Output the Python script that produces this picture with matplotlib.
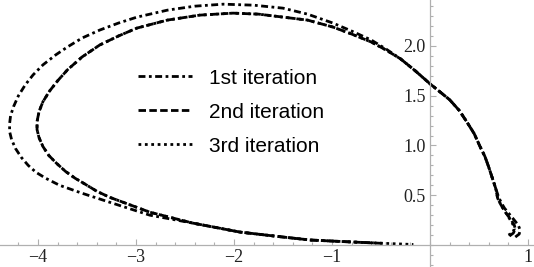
import numpy as np
import matplotlib.pyplot as plt
from matplotlib.ticker import MultipleLocator, FixedLocator

# curve samples, counter-clockwise from the lower right end
x_first = [0.87, 0.91, 0.92, 0.90, 0.86, 0.81, 0.76, 0.73, 0.70, 0.67, 0.64, 0.60,
           0.56, 0.51, 0.45, 0.38, 0.30, 0.20, 0.10, 0.0, -0.15, -0.30, -0.45,
           -0.60, -0.80, -0.99, -1.25, -1.50, -1.80, -2.11, -2.40, -2.68, -2.99,
           -3.18, -3.37, -3.55, -3.70, -3.82, -3.95, -4.05, -4.13, -4.20, -4.25,
           -4.28, -4.29, -4.29, -4.27, -4.23, -4.17, -4.10, -4.02, -3.92, -3.78,
           -3.55, -3.27, -2.86, -2.42, -1.94, -1.50, -1.22, -0.90, -0.55]
y_first = [0.08, 0.11, 0.15, 0.20, 0.25, 0.31, 0.37, 0.42, 0.48, 0.57, 0.66, 0.78,
           0.89, 0.99, 1.12, 1.23, 1.35, 1.46, 1.54, 1.62, 1.75, 1.87, 1.97,
           2.06, 2.15, 2.23, 2.32, 2.38, 2.41, 2.42, 2.40, 2.36, 2.29,
           2.23, 2.16, 2.08, 1.99, 1.91, 1.81, 1.71, 1.61, 1.50, 1.39,
           1.30, 1.22, 1.14, 1.06, 0.97, 0.88, 0.80, 0.73, 0.67, 0.60,
           0.52, 0.43, 0.30, 0.22, 0.13, 0.08, 0.05, 0.035, 0.02]

x_second = [0.81, 0.85, 0.87, 0.86, 0.83, 0.79, 0.75, 0.72, 0.69, 0.67, 0.64, 0.60,
            0.56, 0.51, 0.45, 0.38, 0.30, 0.20, 0.10, 0.0, -0.15, -0.30, -0.45,
            -0.60, -0.80, -0.99, -1.25, -1.50, -1.75, -2.01, -2.35, -2.68, -2.99,
            -3.18, -3.37, -3.55, -3.70, -3.80, -3.88, -3.95, -3.99, -4.01, -4.01,
            -3.99, -3.95, -3.89, -3.81, -3.72, -3.62, -3.50, -3.40, -3.27, -2.86,
            -2.42, -1.94, -1.50, -1.22, -0.90, -0.45]
y_second = [0.09, 0.12, 0.16, 0.20, 0.25, 0.30, 0.36, 0.41, 0.47, 0.57, 0.66, 0.78,
            0.89, 0.99, 1.12, 1.23, 1.35, 1.46, 1.54, 1.62, 1.75, 1.87, 1.96,
            2.04, 2.12, 2.19, 2.26, 2.29, 2.32, 2.33, 2.31, 2.26, 2.18,
            2.10, 2.01, 1.89, 1.76, 1.65, 1.55, 1.44, 1.34, 1.24, 1.16,
            1.08, 0.99, 0.90, 0.82, 0.74, 0.67, 0.60, 0.54, 0.48, 0.33,
            0.22, 0.13, 0.08, 0.05, 0.035, 0.015]

x_third = [0.80, 0.84, 0.86, 0.85, 0.82, 0.79, 0.75, 0.72, 0.69, 0.67, 0.64, 0.60,
           0.56, 0.51, 0.45, 0.38, 0.30, 0.20, 0.10, 0.0, -0.15, -0.30, -0.45,
           -0.60, -0.80, -0.99, -1.25, -1.50, -1.75, -2.01, -2.35, -2.68, -2.99,
           -3.18, -3.37, -3.55, -3.70, -3.80, -3.88, -3.95, -3.99, -4.01, -4.01,
           -3.99, -3.95, -3.89, -3.81, -3.72, -3.62, -3.50, -3.40, -3.27, -2.86,
           -2.42, -1.94, -1.50, -1.22, -0.90, -0.55, -0.17]
y_third = [0.10, 0.12, 0.16, 0.20, 0.25, 0.30, 0.36, 0.41, 0.47, 0.57, 0.66, 0.78,
           0.89, 0.99, 1.12, 1.23, 1.35, 1.46, 1.54, 1.62, 1.75, 1.87, 1.96,
           2.04, 2.12, 2.19, 2.26, 2.29, 2.32, 2.33, 2.31, 2.26, 2.18,
           2.10, 2.01, 1.89, 1.76, 1.65, 1.55, 1.44, 1.34, 1.24, 1.16,
           1.08, 0.99, 0.90, 0.82, 0.74, 0.67, 0.60, 0.54, 0.48, 0.33,
           0.22, 0.13, 0.08, 0.05, 0.035, 0.02, 0.005]

labels = ['1st iteration', '2nd iteration', '3rd iteration']
x_ticks = [-4, -3, -2, -1, 1]
y_ticks = [0.5, 1.0, 1.5, 2.0]

fig = plt.figure(figsize=(5.34, 2.67), dpi=100)
ax = fig.add_axes([0, 0, 1, 1])

lw = 2.0
ax.plot(x_first, y_first, color='black', lw=lw, dashes=(2.5, 1.25, 1.0, 1.25), label=labels[0])
ax.plot(x_second, y_second, color='black', lw=lw, dashes=(2.7, 1.2), label=labels[1])
ax.plot(x_third, y_third, color='black', lw=lw, dashes=(1.0, 1.3), label=labels[2])

ax.set_xlim(-4.388, 1.061)
ax.set_ylim(-0.221, 2.462)

for side in ['top', 'right']:
    ax.spines[side].set_visible(False)
ax.spines['left'].set_position(('data', 0))
ax.spines['bottom'].set_position(('data', 0))
for side in ['left', 'bottom']:
    ax.spines[side].set_color('#b0b0b0')
    ax.spines[side].set_linewidth(0.9)

ax.xaxis.set_major_locator(FixedLocator(x_ticks))
ax.xaxis.set_minor_locator(MultipleLocator(0.2))
ax.yaxis.set_major_locator(FixedLocator(y_ticks))
ax.yaxis.set_minor_locator(MultipleLocator(0.1))
ax.set_xticklabels(['\u2212' + str(abs(t)) if t < 0 else str(t) for t in x_ticks])
ax.set_yticklabels(['%.1f' % t for t in y_ticks])
ax.tick_params(which='both', direction='in', color='#b0b0b0', width=0.8,
               labelsize=13, labelcolor='#222222', labelfontfamily='Liberation Serif')
ax.tick_params(which='major', length=4.5, pad=3)
ax.tick_params(which='minor', length=2.5)
ax.patch.set_visible(False)

ax.legend(loc='center left', bbox_to_anchor=(0.258, 0.58), frameon=False,
          prop={'family': 'Liberation Sans', 'size': 15}, handlelength=2.6,
          handletextpad=0.8, labelspacing=0.72, borderpad=0, borderaxespad=0)

fig.savefig('out.png', dpi=100)
